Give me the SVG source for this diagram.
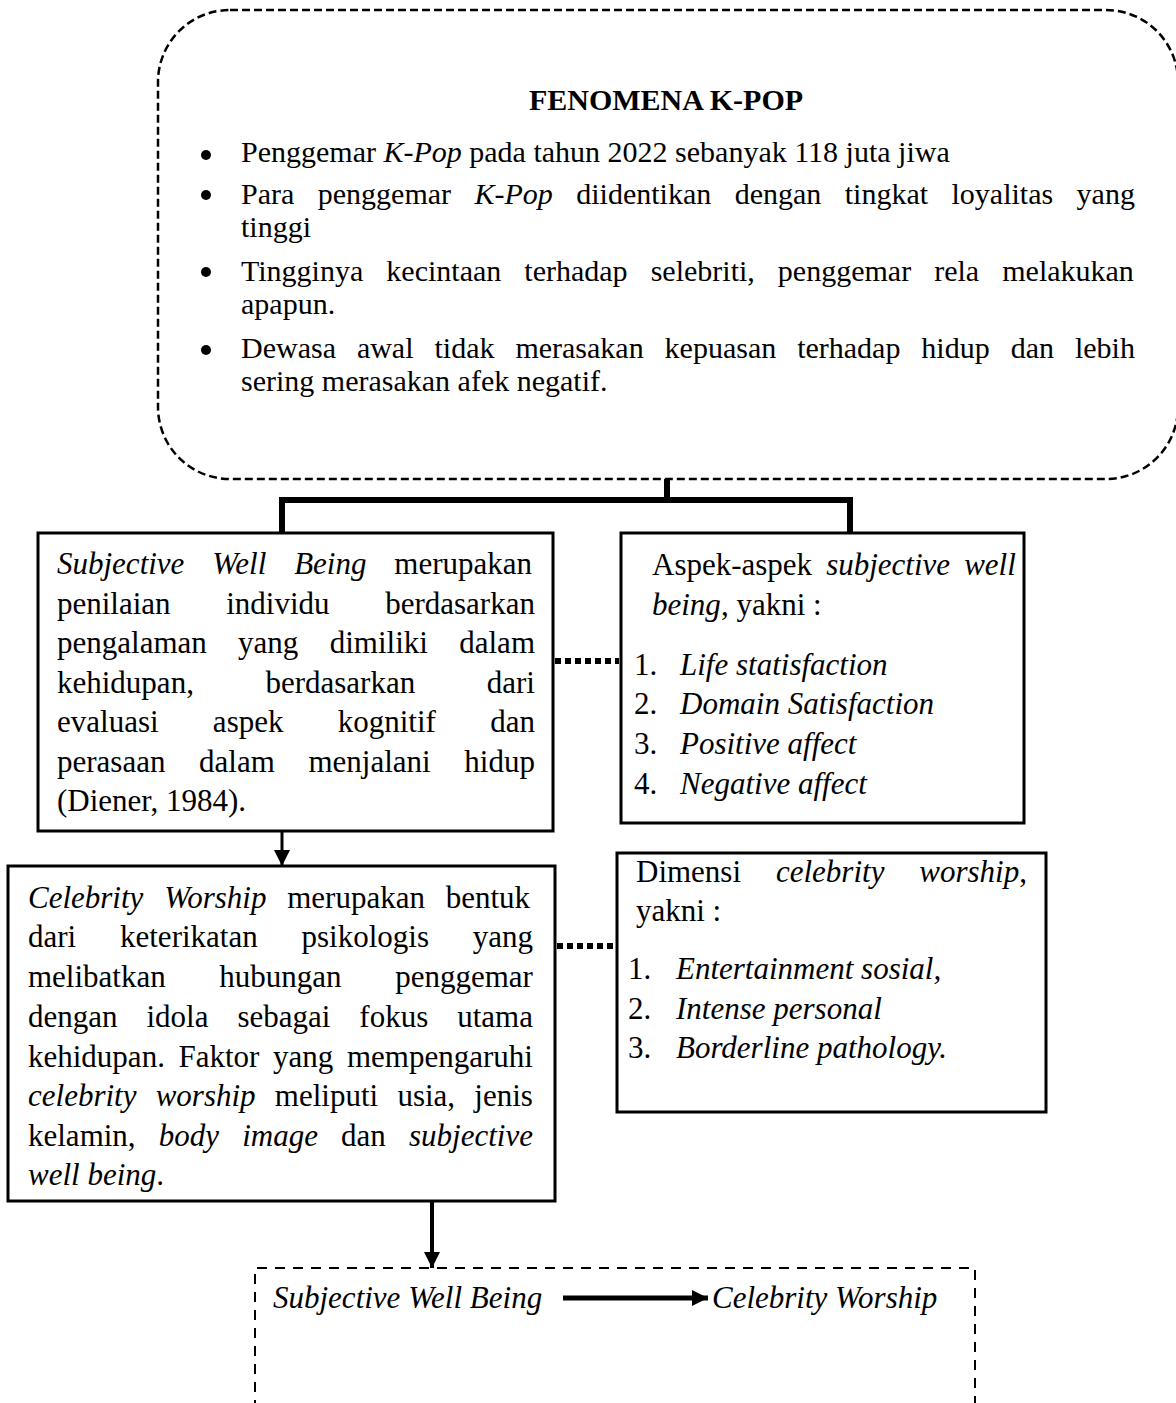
<svg xmlns="http://www.w3.org/2000/svg" width="1176" height="1403" viewBox="0 0 1176 1403">
<style>
.t{font-family:"Liberation Serif","Times New Roman",serif;font-size:31px;fill:#000}
.tb{font-family:"Liberation Serif","Times New Roman",serif;font-size:30px;fill:#000}
.i{font-style:italic}
.b{font-weight:bold}
.box{fill:#fff;stroke:#000;stroke-width:3}
.conn{fill:none;stroke:#000}
.dot{fill:#000}
</style>
<defs>
<marker id="ah" markerUnits="userSpaceOnUse" markerWidth="16" markerHeight="16" refX="16" refY="8" orient="auto">
<path d="M0,0 L16,8 L0,16 Z" fill="#000"/>
</marker>
</defs>

<g id="fenomena">
<rect x="158" y="10" width="1020" height="469" rx="72" ry="72" fill="none" stroke="#000" stroke-width="2.5" stroke-dasharray="8 4"/>
<text class="tb b" x="666" y="110" text-anchor="middle">FENOMENA K-POP</text>
<circle class="dot" cx="206" cy="155" r="5"/>
<text class="tb" x="241" y="162">Penggemar <tspan class="i">K-Pop</tspan> pada tahun 2022 sebanyak 118 juta jiwa</text>
<circle class="dot" cx="206" cy="195" r="5"/>
<text class="tb" x="241" y="204" style="word-spacing:15.94px">Para penggemar <tspan class="i">K-Pop</tspan> diidentikan dengan tingkat loyalitas yang</text>
<text class="tb" x="241" y="237">tinggi</text>
<circle class="dot" cx="206" cy="272" r="5"/>
<text class="tb" x="241" y="281" style="word-spacing:15.57px">Tingginya kecintaan terhadap selebriti, penggemar rela melakukan</text>
<text class="tb" x="241" y="314">apapun.</text>
<circle class="dot" cx="206" cy="350" r="5"/>
<text class="tb" x="241" y="358" style="word-spacing:13.44px">Dewasa awal tidak merasakan kepuasan terhadap hidup dan lebih</text>
<text class="tb" x="241" y="391">sering merasakan afek negatif.</text>
</g>

<g id="swb-def">
<rect class="box" x="38" y="533" width="515" height="298"/>
<text class="t" x="57" y="574" style="word-spacing:20.15px"><tspan class="i">Subjective Well Being</tspan> merupakan</text>
<text class="t" x="57" y="614" style="word-spacing:47.85px">penilaian individu berdasarkan</text>
<text class="t" x="57" y="653" style="word-spacing:23.6px">pengalaman yang dimiliki dalam</text>
<text class="t" x="57" y="693" style="word-spacing:63.8px">kehidupan, berdasarkan dari</text>
<text class="t" x="57" y="732" style="word-spacing:46.55px">evaluasi aspek kognitif dan</text>
<text class="t" x="57" y="772" style="word-spacing:25.9px">perasaan dalam menjalani hidup</text>
<text class="t" x="57" y="811">(Diener, 1984).</text>
</g>

<g id="swb-aspek">
<rect class="box" x="621" y="533" width="403" height="290"/>
<text class="t" x="652" y="575" style="word-spacing:6.3px">Aspek-aspek <tspan class="i">subjective well</tspan></text>
<text class="t" x="652" y="615"><tspan class="i">being</tspan>, yakni :</text>
<text class="t" x="634" y="675">1.</text><text class="t i" x="680" y="675">Life statisfaction</text>
<text class="t" x="634" y="714">2.</text><text class="t i" x="680" y="714">Domain Satisfaction</text>
<text class="t" x="634" y="754">3.</text><text class="t i" x="680" y="754">Positive affect</text>
<text class="t" x="634" y="794">4.</text><text class="t i" x="680" y="794">Negative affect</text>
</g>

<g id="cw-def">
<rect class="box" x="8" y="866" width="547" height="335"/>
<text class="t" x="28" y="908" style="word-spacing:13.05px"><tspan class="i">Celebrity Worship</tspan> merupakan bentuk</text>
<text class="t" x="28" y="947" style="word-spacing:36.05px">dari keterikatan psikologis yang</text>
<text class="t" x="28" y="987" style="word-spacing:45.85px">melibatkan hubungan penggemar</text>
<text class="t" x="28" y="1027" style="word-spacing:21.2px">dengan idola sebagai fokus utama</text>
<text class="t" x="28" y="1067" style="word-spacing:5.87px">kehidupan. Faktor yang mempengaruhi</text>
<text class="t" x="28" y="1106" style="word-spacing:11.5px"><tspan class="i">celebrity worship</tspan> meliputi usia, jenis</text>
<text class="t" x="28" y="1146" style="word-spacing:15.4px">kelamin, <tspan class="i">body image</tspan> dan <tspan class="i">subjective</tspan></text>
<text class="t" x="28" y="1185"><tspan class="i">well being</tspan>.</text>
</g>

<g id="cw-dimensi">
<rect class="box" x="617" y="853" width="429" height="259"/>
<text class="t" x="636" y="882" style="word-spacing:27.15px">Dimensi <tspan class="i">celebrity worship</tspan>,</text>
<text class="t" x="636" y="921">yakni :</text>
<text class="t" x="628" y="979">1.</text><text class="t i" x="676" y="979">Entertainment sosial,</text>
<text class="t" x="628" y="1019">2.</text><text class="t i" x="676" y="1019">Intense personal</text>
<text class="t" x="628" y="1058">3.</text><text class="t i" x="676" y="1058">Borderline pathology.</text>
</g>

<g id="hipotesis">
<path d="M255,1410 V1268 H975 V1410" fill="none" stroke="#000" stroke-width="2" stroke-dasharray="10 8"/>
<text class="t i" x="273" y="1308">Subjective Well Being</text>
<text class="t i" x="712" y="1308">Celebrity Worship</text>
</g>

<g id="connectors">
<path class="conn" d="M667,479 V500" stroke-width="6"/>
<path class="conn" d="M282,533 V500 H850 V533" stroke-width="6" stroke-linejoin="miter"/>
<line class="conn" x1="555" y1="661" x2="619" y2="661" stroke-width="6" stroke-dasharray="6 4"/>
<line class="conn" x1="557" y1="946" x2="615" y2="946" stroke-width="6" stroke-dasharray="6 4"/>
<line class="conn" x1="282" y1="831" x2="282" y2="866" stroke-width="3" marker-end="url(#ah)"/>
<line class="conn" x1="432" y1="1201" x2="432" y2="1268" stroke-width="4" marker-end="url(#ah)"/>
<line class="conn" x1="563" y1="1298" x2="708" y2="1298" stroke-width="5" marker-end="url(#ah)"/>
</g>
</svg>
